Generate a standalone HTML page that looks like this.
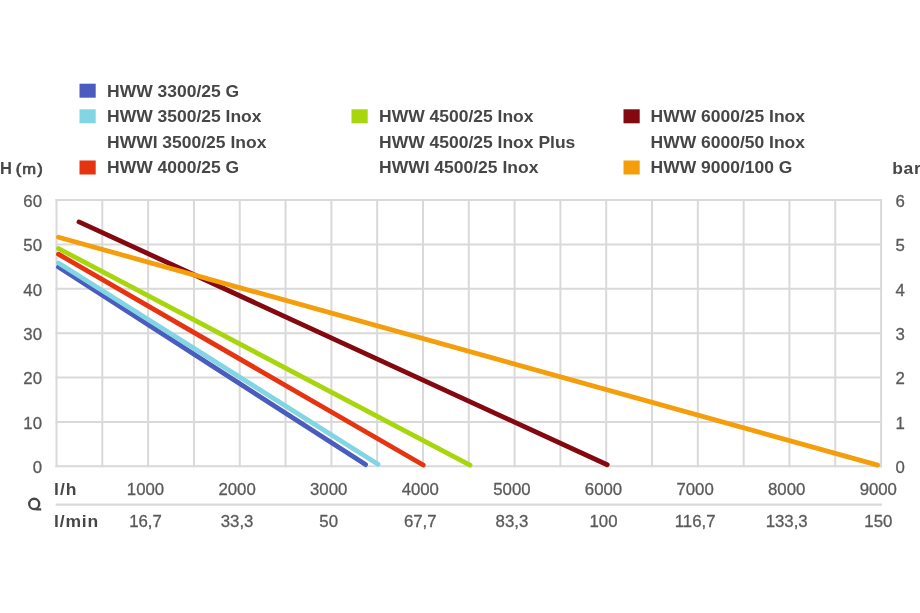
<!DOCTYPE html>
<html><head><meta charset="utf-8"><style>
html,body{margin:0;padding:0;background:#fff;}
svg{display:block;will-change:transform;}
.n{font-family:"Liberation Sans",sans-serif;font-size:16.8px;fill:#5a5a5a;stroke:#5a5a5a;stroke-width:0.3px;}
.b{font-family:"Liberation Sans",sans-serif;font-size:16px;font-weight:bold;fill:#464646;}
</style></head><body>
<svg width="920" height="613" viewBox="0 0 920 613">
<rect width="920" height="613" fill="#fff"/>
<g stroke="#d9d9d9" stroke-width="2" stroke-linecap="square" fill="none"><line x1="56.50" y1="200.02" x2="56.50" y2="466.30"/><line x1="102.31" y1="200.02" x2="102.31" y2="466.30"/><line x1="148.12" y1="200.02" x2="148.12" y2="466.30"/><line x1="193.93" y1="200.02" x2="193.93" y2="466.30"/><line x1="239.74" y1="200.02" x2="239.74" y2="466.30"/><line x1="285.55" y1="200.02" x2="285.55" y2="466.30"/><line x1="331.36" y1="200.02" x2="331.36" y2="466.30"/><line x1="377.17" y1="200.02" x2="377.17" y2="466.30"/><line x1="422.98" y1="200.02" x2="422.98" y2="466.30"/><line x1="468.79" y1="200.02" x2="468.79" y2="466.30"/><line x1="514.60" y1="200.02" x2="514.60" y2="466.30"/><line x1="560.41" y1="200.02" x2="560.41" y2="466.30"/><line x1="606.22" y1="200.02" x2="606.22" y2="466.30"/><line x1="652.03" y1="200.02" x2="652.03" y2="466.30"/><line x1="697.84" y1="200.02" x2="697.84" y2="466.30"/><line x1="743.65" y1="200.02" x2="743.65" y2="466.30"/><line x1="789.46" y1="200.02" x2="789.46" y2="466.30"/><line x1="835.27" y1="200.02" x2="835.27" y2="466.30"/><line x1="881.08" y1="200.02" x2="881.08" y2="466.30"/><line x1="56.50" y1="466.30" x2="881.08" y2="466.30"/><line x1="56.50" y1="421.92" x2="881.08" y2="421.92"/><line x1="56.50" y1="377.54" x2="881.08" y2="377.54"/><line x1="56.50" y1="333.16" x2="881.08" y2="333.16"/><line x1="56.50" y1="288.78" x2="881.08" y2="288.78"/><line x1="56.50" y1="244.40" x2="881.08" y2="244.40"/><line x1="56.50" y1="200.02" x2="881.08" y2="200.02"/></g>
<line x1="55.6" y1="504.7" x2="882" y2="504.6" stroke="#d9d9d9" stroke-width="2.2"/>
<g stroke-width="4.8" stroke-linecap="round" fill="none"><line x1="58.5" y1="267.0" x2="365.5" y2="464.6" stroke="#4a5cbd"/><line x1="58.5" y1="263.0" x2="378.0" y2="464.2" stroke="#82d5e3"/><line x1="58.5" y1="254.2" x2="423.2" y2="465.0" stroke="#e5340f"/><line x1="58.5" y1="248.5" x2="470.0" y2="465.2" stroke="#a8d60c"/><line x1="79.0" y1="221.9" x2="607.2" y2="464.7" stroke="#840810"/><line x1="58.5" y1="237.2" x2="877.6" y2="465.1" stroke="#f59e0c"/></g>
<text x="42" y="473.10" text-anchor="end" class="n">0</text><text x="895.5" y="473.10" class="n">0</text><text x="42" y="428.72" text-anchor="end" class="n">10</text><text x="895.5" y="428.72" class="n">1</text><text x="42" y="384.34" text-anchor="end" class="n">20</text><text x="895.5" y="384.34" class="n">2</text><text x="42" y="339.96" text-anchor="end" class="n">30</text><text x="895.5" y="339.96" class="n">3</text><text x="42" y="295.58" text-anchor="end" class="n">40</text><text x="895.5" y="295.58" class="n">4</text><text x="42" y="251.20" text-anchor="end" class="n">50</text><text x="895.5" y="251.20" class="n">5</text><text x="42" y="206.82" text-anchor="end" class="n">60</text><text x="895.5" y="206.82" class="n">6</text><text x="145.50" y="495.2" text-anchor="middle" class="n">1000</text><text x="145.50" y="527.2" text-anchor="middle" class="n">16,7</text><text x="237.10" y="495.2" text-anchor="middle" class="n">2000</text><text x="237.10" y="527.2" text-anchor="middle" class="n">33,3</text><text x="328.70" y="495.2" text-anchor="middle" class="n">3000</text><text x="328.70" y="527.2" text-anchor="middle" class="n">50</text><text x="420.30" y="495.2" text-anchor="middle" class="n">4000</text><text x="420.30" y="527.2" text-anchor="middle" class="n">67,7</text><text x="511.90" y="495.2" text-anchor="middle" class="n">5000</text><text x="511.90" y="527.2" text-anchor="middle" class="n">83,3</text><text x="603.50" y="495.2" text-anchor="middle" class="n">6000</text><text x="603.50" y="527.2" text-anchor="middle" class="n">100</text><text x="695.10" y="495.2" text-anchor="middle" class="n">7000</text><text x="695.10" y="527.2" text-anchor="middle" class="n">116,7</text><text x="786.70" y="495.2" text-anchor="middle" class="n">8000</text><text x="786.70" y="527.2" text-anchor="middle" class="n">133,3</text><text x="878.30" y="495.2" text-anchor="middle" class="n">9000</text><text x="878.30" y="527.2" text-anchor="middle" class="n">150</text><text class="b" transform="translate(54 495.2) scale(1.06 1)" style="font-size:16.5px;letter-spacing:1.0px">l/h</text><text class="b" transform="translate(54 527.2) scale(1.06 1)" style="font-size:16.5px;letter-spacing:0.8px">l/min</text><g fill="none" stroke="#464646" stroke-width="2.3"><ellipse cx="34.2" cy="503.9" rx="5.0" ry="5.15"/><path d="M34.6 508.9 Q37.5 509.6 41.2 509.4"/></g><text class="b" transform="translate(0 174.2) scale(1.0 1)" style="font-size:16.5px;letter-spacing:0px">H</text><text class="b" transform="translate(15.8 173.8) scale(1.12 1)" style="font-weight:normal;font-size:14.8px;letter-spacing:0.9px;stroke:#464646;stroke-width:0.7px">(m)</text><text class="b" transform="translate(892.3 173.7) scale(1.06 1)" style="font-size:16.5px;letter-spacing:0.6px">bar</text>
<rect x="79.5" y="83.70" width="16.2" height="14" fill="#4a5cbd"/><text class="b" transform="translate(107 96.5) scale(1.06 1)" style="font-size:16.5px;letter-spacing:0px">HWW 3300/25 G</text><rect x="79.5" y="109.30" width="16.2" height="14" fill="#82d5e3"/><text class="b" transform="translate(107 122.1) scale(1.06 1)" style="font-size:16.5px;letter-spacing:0px">HWW 3500/25 Inox</text><text class="b" transform="translate(107 147.7) scale(1.06 1)" style="font-size:16.5px;letter-spacing:0px">HWWI 3500/25 Inox</text><rect x="79.5" y="160.50" width="16.2" height="14" fill="#e5340f"/><text class="b" transform="translate(107 173.3) scale(1.06 1)" style="font-size:16.5px;letter-spacing:0px">HWW 4000/25 G</text><rect x="351.5" y="109.30" width="16.2" height="14" fill="#a8d60c"/><text class="b" transform="translate(379 122.1) scale(1.06 1)" style="font-size:16.5px;letter-spacing:0px">HWW 4500/25 Inox</text><text class="b" transform="translate(379 147.7) scale(1.06 1)" style="font-size:16.5px;letter-spacing:0px">HWW 4500/25 Inox Plus</text><text class="b" transform="translate(379 173.3) scale(1.06 1)" style="font-size:16.5px;letter-spacing:0px">HWWI 4500/25 Inox</text><rect x="623.5" y="109.30" width="16.2" height="14" fill="#840810"/><text class="b" transform="translate(650.5 122.1) scale(1.06 1)" style="font-size:16.5px;letter-spacing:0px">HWW 6000/25 Inox</text><text class="b" transform="translate(650.5 147.7) scale(1.06 1)" style="font-size:16.5px;letter-spacing:0px">HWW 6000/50 Inox</text><rect x="623.5" y="160.50" width="16.2" height="14" fill="#f59e0c"/><text class="b" transform="translate(650.5 173.3) scale(1.06 1)" style="font-size:16.5px;letter-spacing:0px">HWW 9000/100 G</text>
</svg>
</body></html>
